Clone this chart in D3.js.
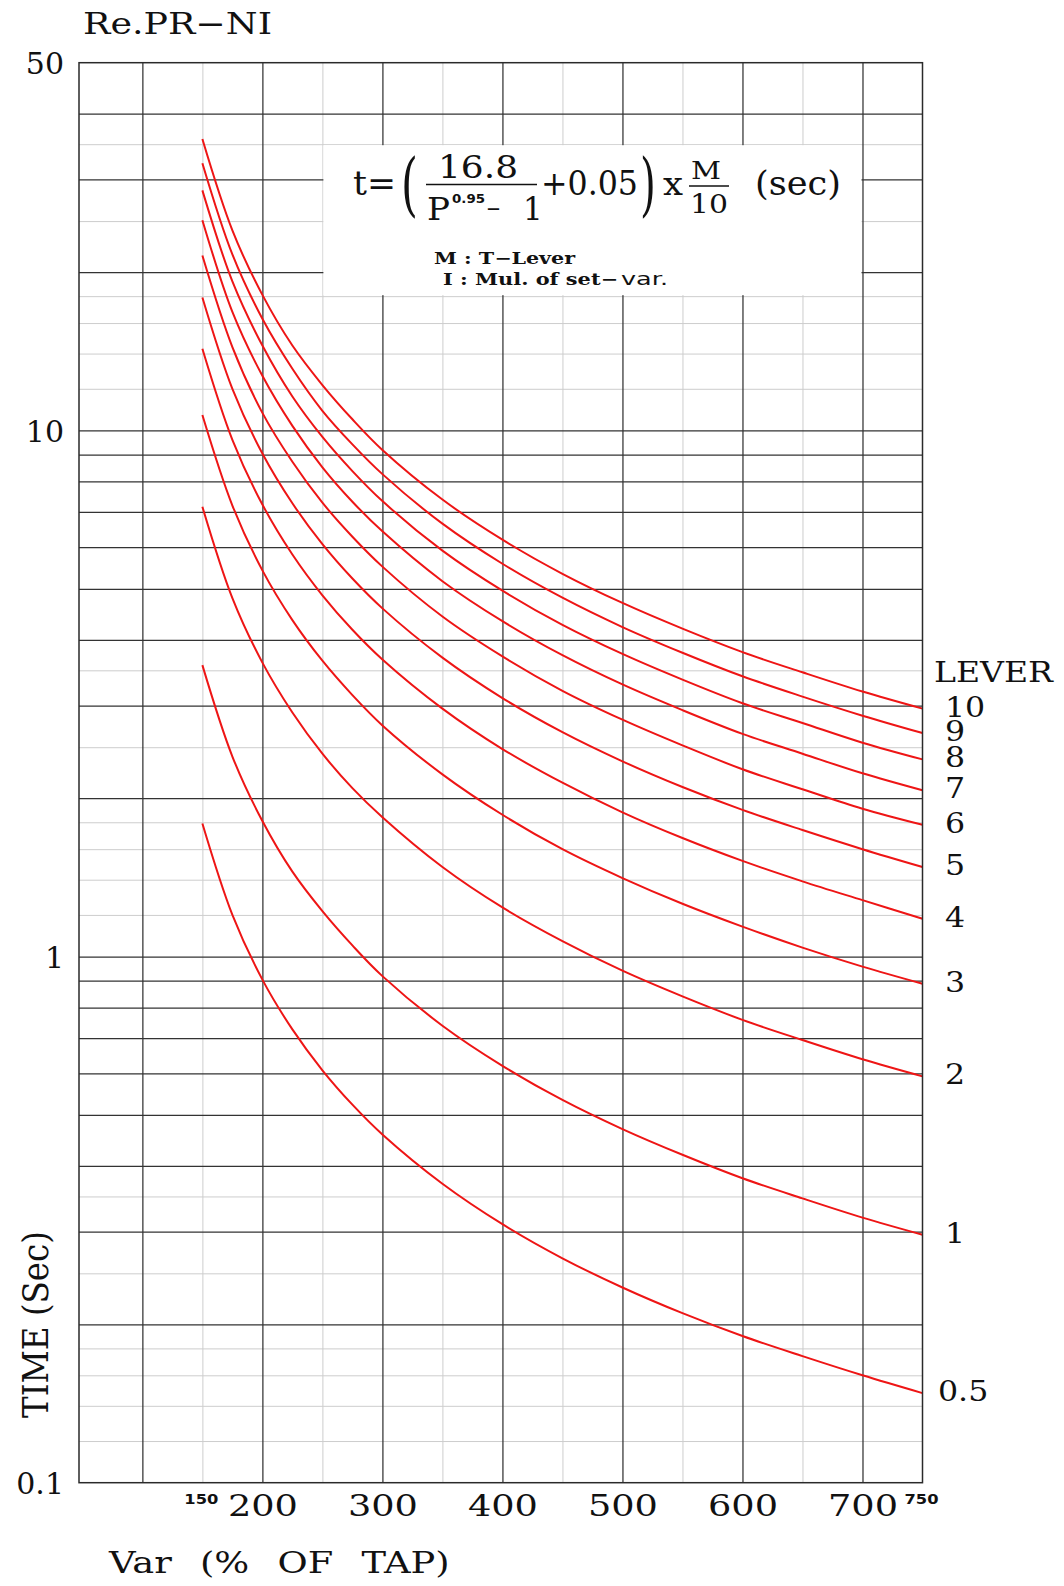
<!DOCTYPE html>
<html>
<head>
<meta charset="utf-8">
<script src="https://cdn.jsdelivr.net/npm/d3@7"></script>
<style>
  html, body { margin: 0; padding: 0; background: #fff; }
  svg { display: block; }
</style>
</head>
<body>
<svg id="chart" width="1064" height="1586"></svg>
<script>
// Current as % of tap at which each lever curve is sampled
const varPoints = [150, 175, 200, 225, 250, 275, 300, 350, 400, 450, 500, 550, 600, 650, 700, 750];

// Operating time (sec) for each time-lever setting
const lever10  = [35.8, 24.0, 18.1, 14.5, 12.2, 10.5, 9.18, 7.39, 6.20, 5.34, 4.70, 4.20, 3.79, 3.47, 3.19, 2.96];
const lever9   = [32.2, 21.6, 16.3, 13.1, 10.9, 9.41, 8.26, 6.65, 5.58, 4.81, 4.23, 3.78, 3.41, 3.12, 2.87, 2.66];
const lever8   = [28.6, 19.2, 14.5, 11.6, 9.72, 8.37, 7.34, 5.91, 4.96, 4.27, 3.76, 3.36, 3.03, 2.78, 2.55, 2.37];
const lever7   = [25.1, 16.8, 12.7, 10.2, 8.51, 7.32, 6.43, 5.17, 4.34, 3.74, 3.29, 2.94, 2.65, 2.43, 2.23, 2.07];
const lever6   = [21.5, 14.4, 10.8, 8.72, 7.29, 6.28, 5.51, 4.43, 3.72, 3.20, 2.82, 2.52, 2.27, 2.08, 1.91, 1.78];
const lever5   = [17.9, 12.0, 9.04, 7.27, 6.08, 5.23, 4.59, 3.70, 3.10, 2.67, 2.35, 2.10, 1.90, 1.74, 1.60, 1.48];
const lever4   = [14.3, 9.60, 7.23, 5.81, 4.86, 4.18, 3.67, 2.96, 2.48, 2.14, 1.88, 1.68, 1.52, 1.39, 1.28, 1.18];
const lever3   = [10.7, 7.20, 5.42, 4.36, 3.65, 3.14, 2.75, 2.22, 1.86, 1.60, 1.41, 1.26, 1.14, 1.04, 0.957, 0.888];
const lever2   = [7.16, 4.80, 3.62, 2.91, 2.43, 2.09, 1.84, 1.48, 1.24, 1.07, 0.940, 0.840, 0.758, 0.694, 0.638, 0.592];
const lever1   = [3.58, 2.40, 1.81, 1.45, 1.22, 1.05, 0.918, 0.739, 0.620, 0.534, 0.470, 0.420, 0.379, 0.347, 0.319, 0.296];
const lever0_5 = [1.79, 1.20, 0.904, 0.727, 0.608, 0.523, 0.459, 0.370, 0.310, 0.267, 0.235, 0.210, 0.190, 0.174, 0.160, 0.148];

const leverLabels = ["10", "9", "8", "7", "6", "5", "4", "3", "2", "1", "0.5"];
const leverSeries = [lever10, lever9, lever8, lever7, lever6, lever5, lever4, lever3, lever2, lever1, lever0_5];

// Axis ticks and grid
const xTickValues = [200, 300, 400, 500, 600, 700];
const xEndTicks = [150, 750];
const yTickValues = [0.1, 1, 10, 50];
const gridMajorX = [100, 200, 300, 400, 500, 600, 700];
const gridMinorX = [150, 250, 350, 450, 550, 650];
const gridMajorY = [0.2, 0.3, 0.4, 0.5, 0.6, 0.7, 0.8, 0.9, 1, 2, 3, 4, 5, 6, 7, 8, 9, 10, 20, 30, 40];
const gridMinorY = [0.12, 0.14, 0.16, 0.18, 0.25, 0.35, 1.2, 1.4, 1.6, 1.8, 2.5, 3.5, 12, 14, 16, 18, 25, 35];

// ---- layout ----
const plotLeft = 79, plotRight = 922.5, plotTop = 62.7, plotBottom = 1482.7;
const SERIF = "'DejaVu Serif', 'Liberation Serif', serif";
const SANS = "'DejaVu Sans', 'Liberation Sans', sans-serif";

const svg = d3.select("#chart");

const x = d3.scaleLinear().domain([47.2, 750]).range([plotLeft, plotRight]);
const y = d3.scaleLog().domain([0.1, 50]).range([plotBottom, plotTop]);

// ---- grid ----
function gridX(values, color, width) {
  const g = svg.append("g").attr("transform", `translate(0,${plotBottom})`)
    .call(d3.axisBottom(x).tickValues(values).tickSize(-(plotBottom - plotTop)).tickFormat(""));
  g.select(".domain").remove();
  g.selectAll("line").attr("stroke", color).attr("stroke-width", width);
}
function gridY(values, color, width) {
  const g = svg.append("g").attr("transform", `translate(${plotLeft},0)`)
    .call(d3.axisLeft(y).tickValues(values).tickSize(-(plotRight - plotLeft)).tickFormat(""));
  g.select(".domain").remove();
  g.selectAll("line").attr("stroke", color).attr("stroke-width", width);
}
gridX(gridMinorX, "#cdcdcd", 1);
gridY(gridMinorY, "#cdcdcd", 1);
gridX(gridMajorX, "#333", 1.25);
gridY(gridMajorY, "#333", 1.25);

// ---- formula panel (white area over the grid) ----
const bx0 = x(250) + 1, bx1 = x(700) - 1, by0 = y(35) + 1, by1 = y(18) - 1;
svg.append("rect")
  .attr("x", bx0).attr("y", by0)
  .attr("width", bx1 - bx0).attr("height", by1 - by0)
  .attr("fill", "#fff");

const f = svg.append("g").attr("fill", "#111").attr("font-family", SERIF);
function txt(str, px, py, size, opts = {}) {
  const t = f.append("text").attr("x", px).attr("y", py)
    .attr("font-size", size).text(str);
  if (opts.anchor) t.attr("text-anchor", opts.anchor);
  if (opts.len) t.attr("textLength", opts.len).attr("lengthAdjust", opts.adj || "spacingAndGlyphs");
  if (opts.family) t.attr("font-family", opts.family);
  if (opts.weight) t.attr("font-weight", opts.weight);
  return t;
}
txt("t=", 353, 195, 33, { len: 43 });
txt("(", 0, 0, 70).attr("transform", "translate(401,208) scale(0.62,1)");
txt("16.8", 438, 178, 31, { len: 80 });
f.append("line").attr("x1", 426).attr("x2", 537).attr("y1", 184.5).attr("y2", 184.5)
  .attr("stroke", "#111").attr("stroke-width", 1.6);
txt("P", 427, 220, 31, { len: 23 });
txt("0.95", 452, 203, 13, { len: 33, family: SANS, weight: "bold" });
txt("\u2212", 486, 216, 22, { len: 15 });
txt("1", 523, 220, 31);
txt("+0.05", 541, 195, 33, { len: 97 });
txt(")", 0, 0, 70).attr("transform", "translate(640,208) scale(0.58,1)");
txt("x", 663, 195, 31, { len: 20 });
txt("M", 691, 179, 24, { len: 30 });
f.append("line").attr("x1", 689).attr("x2", 729).attr("y1", 186).attr("y2", 186)
  .attr("stroke", "#111").attr("stroke-width", 1.5);
txt("10", 690, 213, 26, { len: 38 });
txt("(sec)", 755, 195, 33, { len: 86 });
txt("M : T\u2212Lever", 434, 264, 16, { len: 141, weight: "bold" });
txt("I : Mul. of set\u2212", 443, 284.5, 16, { len: 175, weight: "bold" });
txt("var.", 621, 284.5, 17, { len: 47, family: SANS });

// ---- lever curves ----
const line = d3.line()
  .x(d => x(d.v))
  .y(d => y(d.t))
  .curve(d3.curveCatmullRom.alpha(0.5));

const curves = leverSeries.map((vals, i) => ({
  label: leverLabels[i],
  points: varPoints.map((v, j) => ({ v, t: vals[j] }))
}));

svg.append("g")
  .selectAll("path")
  .data(curves)
  .join("path")
  .attr("d", d => line(d.points))
  .attr("fill", "none")
  .attr("stroke", "#ee1515")
  .attr("stroke-width", 2);

// ---- frame ----
svg.append("rect")
  .attr("x", plotLeft).attr("y", plotTop)
  .attr("width", plotRight - plotLeft).attr("height", plotBottom - plotTop)
  .attr("fill", "none").attr("stroke", "#2a2a2a").attr("stroke-width", 1.5);

// ---- axes labels ----
const xa = svg.append("g").attr("transform", `translate(0,${plotBottom})`)
  .call(d3.axisBottom(x).tickValues(xTickValues).tickSize(0).tickPadding(12).tickFormat(d3.format("d")));
xa.select(".domain").remove();
xa.selectAll("text")
  .attr("font-family", SERIF).attr("font-size", 30).attr("fill", "#111")
  .attr("textLength", 70).attr("lengthAdjust", "spacingAndGlyphs");

svg.append("g").selectAll("text")
  .data(xEndTicks)
  .join("text")
  .attr("x", d => x(d) - 1)
  .attr("y", plotBottom + 21)
  .attr("text-anchor", "middle")
  .attr("font-family", SANS).attr("font-weight", "bold").attr("font-size", 14)
  .attr("textLength", 34).attr("lengthAdjust", "spacingAndGlyphs")
  .attr("fill", "#111")
  .text(d => d);

const ya = svg.append("g").attr("transform", `translate(${plotLeft},0)`)
  .call(d3.axisLeft(y).tickValues(yTickValues).tickSize(0).tickPadding(15).tickFormat(d => String(d)));
ya.select(".domain").remove();
ya.selectAll("text")
  .attr("font-family", SERIF).attr("font-size", 30).attr("fill", "#111")
  .attr("dy", "0.36em");

// Titles
svg.append("text")
  .attr("x", 83).attr("y", 33.5)
  .attr("font-family", SERIF).attr("font-size", 30).attr("fill", "#111")
  .attr("textLength", 189).attr("lengthAdjust", "spacingAndGlyphs")
  .text("Re.PR\u2212NI");

svg.append("text")
  .attr("transform", "translate(109,1573) scale(1.27,1)")
  .attr("font-family", SERIF).attr("font-size", 29).attr("fill", "#111")
  .attr("word-spacing", 13)
  .text("Var (% OF TAP)");

svg.append("text")
  .attr("transform", "translate(48,1324.5) rotate(-90)")
  .attr("text-anchor", "middle")
  .attr("font-family", SERIF).attr("font-size", 35).attr("fill", "#111")
  .attr("textLength", 187).attr("lengthAdjust", "spacingAndGlyphs")
  .text("TIME (Sec)");

// Lever legend on the right edge
svg.append("text")
  .attr("x", 934).attr("y", 682)
  .attr("font-family", SERIF).attr("font-size", 28).attr("fill", "#111")
  .attr("textLength", 119).attr("lengthAdjust", "spacingAndGlyphs")
  .text("LEVER");

svg.append("g").selectAll("text")
  .data(curves)
  .join("text")
  .attr("transform", d => {
    const last = d.points[d.points.length - 1];
    return `translate(${d.label === "0.5" ? 938 : 945},${y(last.t) - 2}) scale(1.13,1)`;
  })
  .attr("dy", "0.36em")
  .attr("font-family", SERIF).attr("font-size", 28).attr("fill", "#111")
  .text(d => d.label);
</script>
</body>
</html>
